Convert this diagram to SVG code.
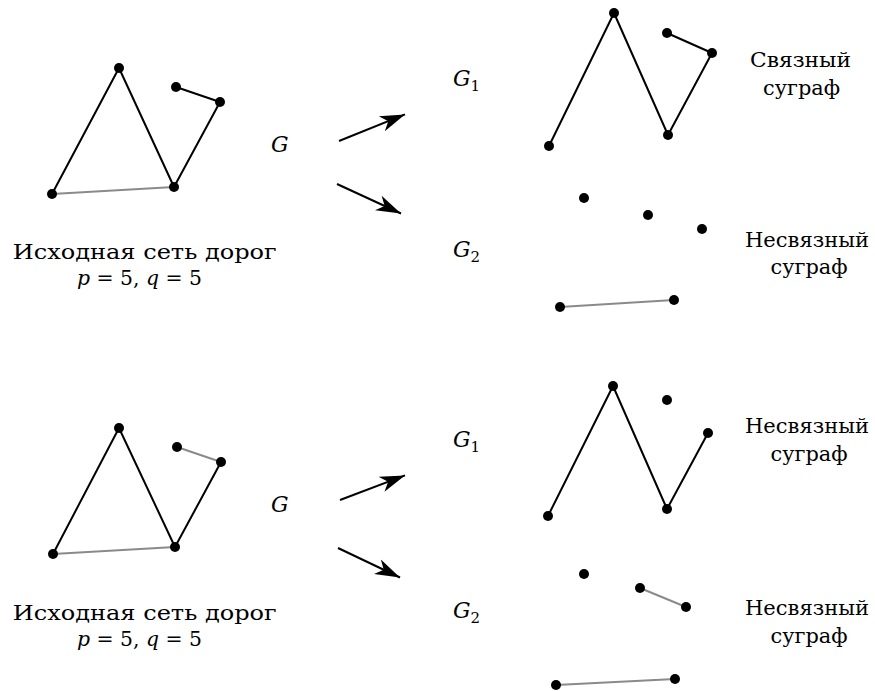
<svg xmlns="http://www.w3.org/2000/svg" width="875" height="691" viewBox="0 0 875 691">
<style>
  .e { stroke: #000; stroke-width: 2; fill: none; stroke-linecap: round; }
  .g { stroke: #8a8a8a; stroke-width: 2; fill: none; stroke-linecap: round; }
  .n { fill: #000; }
  .t { font-family: "DejaVu Serif", "Liberation Serif", serif; font-size: 21px; fill: #000; }
  .s { font-family: "DejaVu Serif", "Liberation Serif", serif; font-size: 22px; font-style: italic; fill: #000; }
  .sub { font-size: 15px; font-style: normal; }
  .i { font-style: italic; }
  .a { stroke: #000; stroke-width: 2; fill: none; }
</style>
<defs>
  <marker id="ah" markerUnits="userSpaceOnUse" markerWidth="26" markerHeight="18" viewBox="-25 -9 26 18" refX="0" refY="0" orient="auto">
    <path d="M0,0 L-25,-8 L-18,0 L-25,8 Z" fill="#000"/>
  </marker>
</defs>
<rect width="875" height="691" fill="#fff"/>

<g id="connectors">
  <!-- top original graph -->
  <line class="e" x1="119" y1="68" x2="52" y2="194"/>
  <line class="e" x1="119" y1="68" x2="174" y2="187"/>
  <line class="e" x1="174" y1="187" x2="220" y2="102"/>
  <line class="e" x1="176" y1="87" x2="220" y2="102"/>
  <line class="g" x1="52" y1="194" x2="174" y2="187"/>
  <!-- top G1 -->
  <line class="e" x1="549" y1="146" x2="614" y2="13"/>
  <line class="e" x1="614" y1="13" x2="668" y2="135"/>
  <line class="e" x1="668" y1="135" x2="712" y2="53"/>
  <line class="e" x1="667" y1="33" x2="712" y2="53"/>
  <!-- top G2 -->
  <line class="g" x1="560" y1="307" x2="674" y2="300"/>
  <!-- top arrows -->
  <line class="a" x1="339" y1="141" x2="405" y2="114.4" marker-end="url(#ah)"/>
  <line class="a" x1="337" y1="184" x2="401" y2="213.5" marker-end="url(#ah)"/>
  <!-- bottom original graph -->
  <line class="e" x1="119" y1="428" x2="53" y2="554"/>
  <line class="e" x1="119" y1="428" x2="175" y2="547"/>
  <line class="e" x1="175" y1="547" x2="221" y2="462"/>
  <line class="g" x1="177" y1="447" x2="221" y2="462"/>
  <line class="g" x1="53" y1="554" x2="175" y2="547"/>
  <!-- bottom G1 -->
  <line class="e" x1="548" y1="516" x2="613" y2="386"/>
  <line class="e" x1="613" y1="386" x2="667" y2="509"/>
  <line class="e" x1="667" y1="509" x2="708" y2="433"/>
  <!-- bottom G2 -->
  <line class="g" x1="640" y1="588" x2="686" y2="607"/>
  <line class="g" x1="556" y1="685" x2="675" y2="679"/>
  <!-- bottom arrows -->
  <line class="a" x1="340" y1="500" x2="405" y2="475.4" marker-end="url(#ah)"/>
  <line class="a" x1="338" y1="548" x2="400" y2="577.5" marker-end="url(#ah)"/>
</g>

<g id="graph-top-original">
  <circle class="n" cx="119" cy="68" r="5"/>
  <circle class="n" cx="52" cy="194" r="5"/>
  <circle class="n" cx="174" cy="187" r="5"/>
  <circle class="n" cx="176" cy="87" r="5"/>
  <circle class="n" cx="220" cy="102" r="5"/>
</g>
<g id="graph-top-g1">
  <circle class="n" cx="549" cy="146" r="5"/>
  <circle class="n" cx="614" cy="13" r="5"/>
  <circle class="n" cx="668" cy="135" r="5"/>
  <circle class="n" cx="667" cy="33" r="5"/>
  <circle class="n" cx="712" cy="53" r="5"/>
</g>
<g id="graph-top-g2">
  <circle class="n" cx="584" cy="198" r="5"/>
  <circle class="n" cx="648" cy="215" r="5"/>
  <circle class="n" cx="702" cy="229" r="5"/>
  <circle class="n" cx="560" cy="307" r="5"/>
  <circle class="n" cx="674" cy="300" r="5"/>
</g>
<g id="graph-bottom-original">
  <circle class="n" cx="119" cy="428" r="5"/>
  <circle class="n" cx="53" cy="554" r="5"/>
  <circle class="n" cx="175" cy="547" r="5"/>
  <circle class="n" cx="177" cy="447" r="5"/>
  <circle class="n" cx="221" cy="462" r="5"/>
</g>
<g id="graph-bottom-g1">
  <circle class="n" cx="548" cy="516" r="5"/>
  <circle class="n" cx="613" cy="386" r="5"/>
  <circle class="n" cx="667" cy="509" r="5"/>
  <circle class="n" cx="667" cy="400" r="5"/>
  <circle class="n" cx="708" cy="433" r="5"/>
</g>
<g id="graph-bottom-g2">
  <circle class="n" cx="584" cy="574" r="5"/>
  <circle class="n" cx="640" cy="588" r="5"/>
  <circle class="n" cx="686" cy="607" r="5"/>
  <circle class="n" cx="556" cy="685" r="5"/>
  <circle class="n" cx="675" cy="679" r="5"/>
</g>

<g id="labels-top">
  <text class="t" x="144.7" y="259" text-anchor="middle" textLength="264" lengthAdjust="spacingAndGlyphs">Исходная сеть дорог</text>
  <text class="t" x="139.5" y="285" text-anchor="middle" textLength="125" lengthAdjust="spacingAndGlyphs"><tspan class="i">p</tspan> = 5, <tspan class="i">q</tspan> = 5</text>
  <text class="s" x="271" y="152">G</text>
  <text class="s" x="453" y="86">G<tspan class="sub" dy="5">1</tspan></text>
  <text class="s" x="453" y="257">G<tspan class="sub" dy="5">2</tspan></text>
  <text class="t" x="800.5" y="67" text-anchor="middle" textLength="101" lengthAdjust="spacingAndGlyphs">Связный</text>
  <text class="t" x="801.5" y="95" text-anchor="middle" textLength="77" lengthAdjust="spacingAndGlyphs">суграф</text>
  <text class="t" x="807" y="247" text-anchor="middle" textLength="124" lengthAdjust="spacingAndGlyphs">Несвязный</text>
  <text class="t" x="809" y="274" text-anchor="middle" textLength="77" lengthAdjust="spacingAndGlyphs">суграф</text>
</g>
<g id="labels-bottom">
  <text class="t" x="144.7" y="620" text-anchor="middle" textLength="264" lengthAdjust="spacingAndGlyphs">Исходная сеть дорог</text>
  <text class="t" x="139.5" y="646" text-anchor="middle" textLength="125" lengthAdjust="spacingAndGlyphs"><tspan class="i">p</tspan> = 5, <tspan class="i">q</tspan> = 5</text>
  <text class="s" x="271" y="512">G</text>
  <text class="s" x="453" y="447">G<tspan class="sub" dy="5">1</tspan></text>
  <text class="s" x="453" y="618">G<tspan class="sub" dy="5">2</tspan></text>
  <text class="t" x="807" y="433" text-anchor="middle" textLength="124" lengthAdjust="spacingAndGlyphs">Несвязный</text>
  <text class="t" x="809" y="461" text-anchor="middle" textLength="77" lengthAdjust="spacingAndGlyphs">суграф</text>
  <text class="t" x="807" y="615" text-anchor="middle" textLength="124" lengthAdjust="spacingAndGlyphs">Несвязный</text>
  <text class="t" x="809" y="643" text-anchor="middle" textLength="77" lengthAdjust="spacingAndGlyphs">суграф</text>
</g>
</svg>
